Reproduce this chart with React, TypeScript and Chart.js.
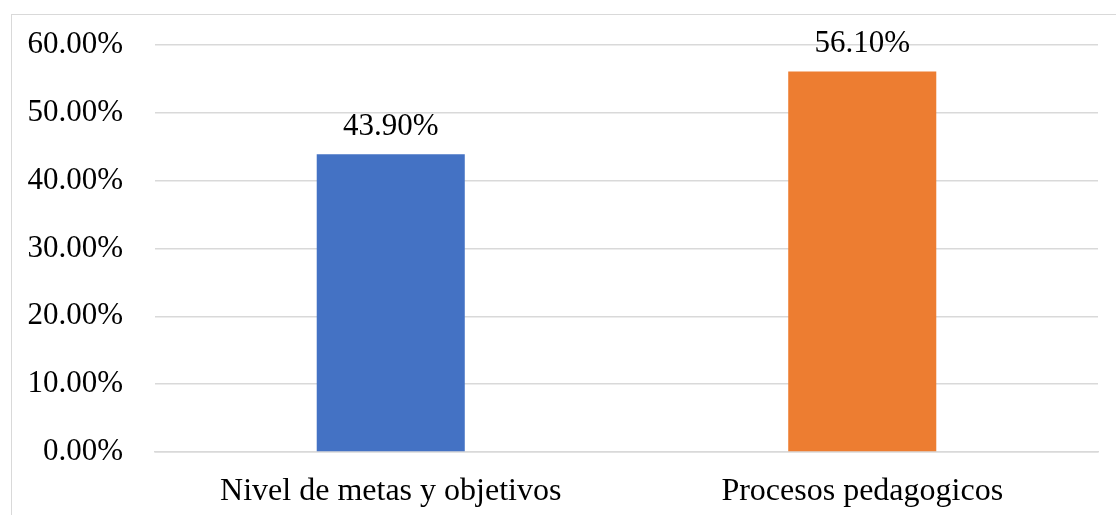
import React, { useEffect, useRef } from "react";
import { Chart, registerables } from "chart.js";

Chart.register(...registerables);

const categories = ["Nivel de metas y objetivos", "Procesos pedagogicos"];
const values = [43.9, 56.1];
const barColors = ["#4472C4", "#ED7D31"];
const yMin = 0;
const yMax = 60;
const yStep = 10;

const FONT = '"Liberation Serif", "Times New Roman", serif';

const valueLabels = {
  id: "valueLabels",
  afterDatasetsDraw(chart: any) {
    const ctx = chart.ctx;
    const meta = chart.getDatasetMeta(0);
    ctx.save();
    ctx.font = `31px ${FONT}`;
    ctx.fillStyle = "#000";
    ctx.textAlign = "center";
    ctx.textBaseline = "alphabetic";
    meta.data.forEach((bar: any, i: number) => {
      const v = chart.data.datasets[0].data[i] as number;
      ctx.fillText(v.toFixed(2) + "%", bar.x, bar.y - 19);
    });
    ctx.restore();
  },
};

export default function App() {
  const ref = useRef<HTMLCanvasElement | null>(null);
  useEffect(() => {
    if (!ref.current) return;
    const chart = new Chart(ref.current, {
      type: "bar",
      data: {
        labels: categories,
        datasets: [
          {
            data: values,
            backgroundColor: barColors,
            borderWidth: 0,
            barPercentage: 0.314,
            categoryPercentage: 1,
          },
        ],
      },
      options: {
        animation: false,
        responsive: false,
        maintainAspectRatio: false,
        layout: { padding: { top: 45, right: 18, left: 0, bottom: 0 } },
        plugins: { legend: { display: false }, tooltip: { enabled: false } },
        scales: {
          x: {
            grid: { display: false },
            border: { display: true, color: "#d9d9d9", width: 1.5 },
            ticks: {
              color: "#000",
              font: { family: FONT, size: 32 },
              padding: 12,
              maxRotation: 0,
            },
            afterFit: (s: any) => {
              s.height = 63;
            },
          },
          y: {
            min: yMin,
            max: yMax,
            grid: { color: "#d9d9d9", lineWidth: 1.5, drawTicks: false },
            border: { display: false },
            ticks: {
              stepSize: yStep,
              color: "#000",
              font: { family: FONT, size: 31 },
              padding: 32,
              callback: (v: any) => Number(v).toFixed(2) + "%",
            },
            afterFit: (s: any) => {
              s.width = 155;
              s.paddingTop = 0;
              s.paddingBottom = 0;
            },
          },
        },
      },
      plugins: [valueLabels],
    });
    return () => chart.destroy();
  }, []);

  return (
    <div style={{ position: "fixed", left: 0, top: 0, width: 1116, height: 515, background: "#fff", overflow: "hidden" }}>
      <div
        style={{
          position: "absolute",
          left: 11,
          top: 14,
          width: 1120,
          height: 520,
          border: "1.5px solid #d9d9d9",
          boxSizing: "border-box",
        }}
      />
      <canvas ref={ref} width={1116} height={515} style={{ position: "absolute", left: 0, top: 0 }} />
    </div>
  );
}
